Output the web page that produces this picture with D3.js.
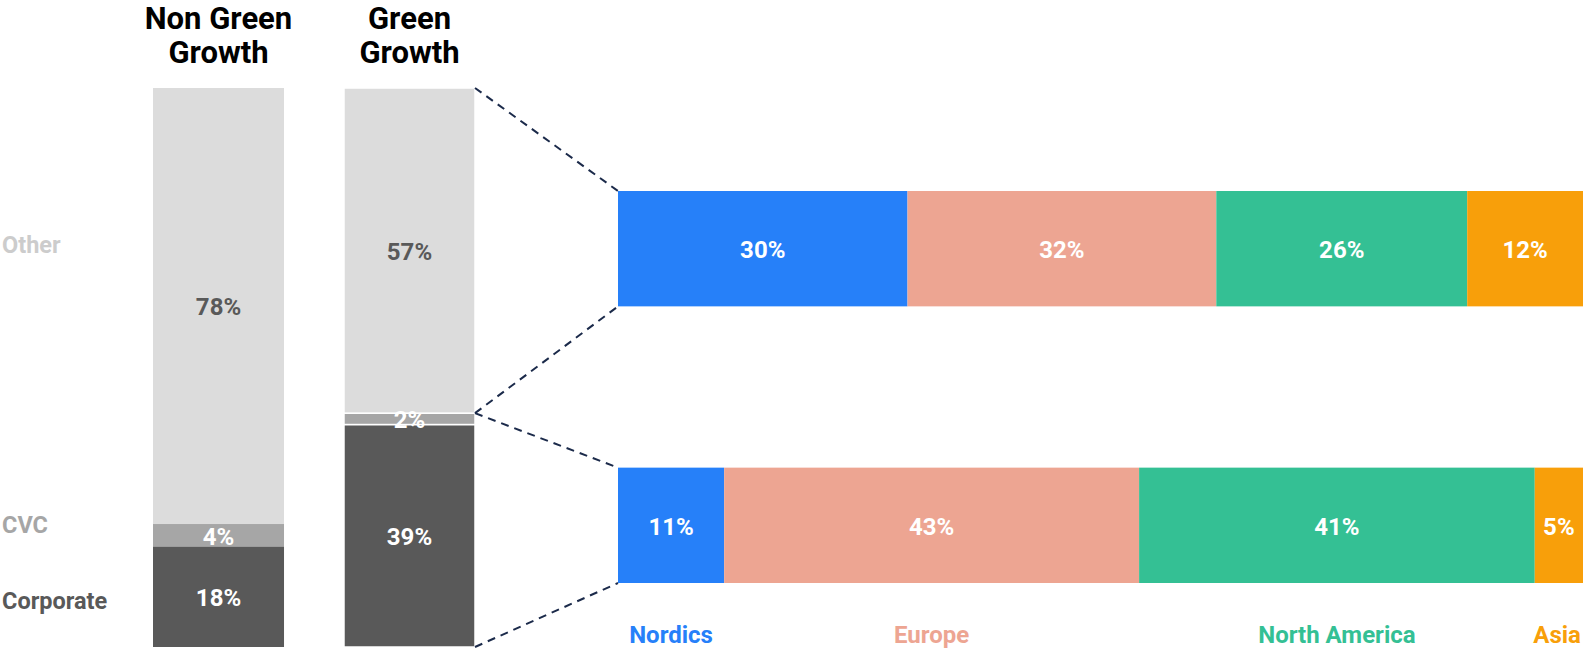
<!DOCTYPE html>
<meta charset="utf-8">
<style>
body { margin: 0; background: #fff; }
svg text { font-family: Roboto, "Noto Sans", sans-serif; font-weight: 700; }
</style>
<svg width="1583" height="649"></svg>
<script src="https://d3js.org/d3.v7.min.js"></script>
<script>

// ---- data ----
var groups = ["Non Green Growth", "Green Growth"];
var groupTitles = [["Non Green", "Growth"], ["Green", "Growth"]];
var investorTypes = ["Corporate", "CVC", "Other"];
var nonGreenValues = [18, 4, 78];
var greenValues = [39, 2, 57];

var regions = ["Nordics", "Europe", "North America", "Asia"];
var otherRegionValues = [30, 32, 26, 12];
var corporateRegionValues = [11, 43, 41, 5];

var greyColours = { "Corporate": "#595959", "CVC": "#a6a6a6", "Other": "#dcdcdc" };
var labelColours = { "Corporate": "#ffffff", "CVC": "#ffffff", "Other": "#595959" };
var sideLabelColours = { "Corporate": "#595959", "CVC": "#a6a6a6", "Other": "#cccccc" };
var sideLabelY = { "Corporate": 603, "CVC": 527, "Other": 247 };
var regionColours = ["#2680f9", "#eda592", "#34c094", "#f89f0a"];

var svg = d3.select("svg");

// ---- scales ----
var x = d3.scaleBand().domain(groups).range([153, 475]).paddingInner(0.314);
var y = d3.scaleLinear().domain([0, 1]).range([647, 88]);

var rx = d3.scaleLinear().domain([0, 1]).range([618, 1583]);
var ry = d3.scaleBand().domain(["Other", "Corporate"]).range([191, 583]).paddingInner(0.583);

function stackUp(values) {
  var total = d3.sum(values), acc = 0;
  return values.map(function(v, i) {
    var s = { key: investorTypes[i], value: v, y0: acc / total, y1: (acc + v) / total };
    acc += v;
    return s;
  });
}

var columns = [
  { name: groups[0], title: groupTitles[0], segs: stackUp(nonGreenValues), stroke: "none" },
  { name: groups[1], title: groupTitles[1], segs: stackUp(greenValues), stroke: "#fff" }
];

// titles
columns.forEach(function(c) {
  var t = svg.append("text")
    .attr("x", x(c.name) + x.bandwidth() / 2)
    .attr("text-anchor", "middle")
    .style("font-size", "31px")
    .attr("fill", "#000");
  c.title.forEach(function(line, i) {
    t.append("tspan")
      .attr("x", x(c.name) + x.bandwidth() / 2)
      .attr("y", 29 + i * 34)
      .text(line);
  });
});

// side labels
investorTypes.forEach(function(k) {
  svg.append("text")
    .attr("x", 2)
    .attr("y", sideLabelY[k])
    .attr("dominant-baseline", "middle")
    .style("font-size", "23.5px")
    .attr("fill", sideLabelColours[k])
    .text(k);
});

// stacked columns
columns.forEach(function(c) {
  var g = svg.append("g");
  g.selectAll("rect")
    .data(c.segs)
    .enter()
    .append("rect")
      .attr("x", x(c.name))
      .attr("width", x.bandwidth())
      .attr("y", function(d) { return y(d.y1); })
      .attr("height", function(d) { return y(d.y0) - y(d.y1); })
      .attr("fill", function(d) { return greyColours[d.key]; })
      .attr("stroke", c.stroke)
      .attr("stroke-width", 1.5);
  g.selectAll("text")
    .data(c.segs)
    .enter()
    .append("text")
      .attr("x", x(c.name) + x.bandwidth() / 2)
      .attr("y", function(d) { return (y(d.y0) + y(d.y1)) / 2 + 3; })
      .attr("text-anchor", "middle")
      .attr("dominant-baseline", "middle")
      .style("font-size", "24px")
      .attr("fill", function(d) { return labelColours[d.key]; })
      .text(function(d) { return d.value + "%"; });
});

// connector lines
var green = columns[1];
var bx = x(green.name) + x.bandwidth();
var otherSeg = green.segs[2], cvcSeg = green.segs[1];
var connectors = [
  [bx, y(otherSeg.y1), rx(0), ry("Other")],
  [bx, y(otherSeg.y0), rx(0), ry("Other") + ry.bandwidth()],
  [bx, y(cvcSeg.y1), rx(0), ry("Corporate")],
  [bx, y(0), rx(0), ry("Corporate") + ry.bandwidth()]
];
svg.append("g").selectAll("line")
  .data(connectors)
  .enter()
  .append("line")
    .attr("x1", function(d) { return d[0]; })
    .attr("y1", function(d) { return d[1]; })
    .attr("x2", function(d) { return d[2]; })
    .attr("y2", function(d) { return d[3]; })
    .style("stroke", "#1b2a4a")
    .style("stroke-width", "2")
    .style("stroke-dasharray", "8,6");

// region bars
function stackAcross(values) {
  var total = d3.sum(values), acc = 0;
  return values.map(function(v, i) {
    var s = { region: regions[i], value: v, x0: acc / total, x1: (acc + v) / total, colour: regionColours[i] };
    acc += v;
    return s;
  });
}

var regionRows = [
  { key: "Other", segs: stackAcross(otherRegionValues) },
  { key: "Corporate", segs: stackAcross(corporateRegionValues) }
];

regionRows.forEach(function(r) {
  var g = svg.append("g");
  g.selectAll("rect")
    .data(r.segs)
    .enter()
    .append("rect")
      .attr("x", function(d) { return rx(d.x0); })
      .attr("width", function(d) { return rx(d.x1) - rx(d.x0); })
      .attr("y", ry(r.key))
      .attr("height", ry.bandwidth())
      .attr("fill", function(d) { return d.colour; });
  g.selectAll("text")
    .data(r.segs)
    .enter()
    .append("text")
      .attr("x", function(d) { return (rx(d.x0) + rx(d.x1)) / 2; })
      .attr("y", ry(r.key) + ry.bandwidth() / 2 + 3)
      .attr("text-anchor", "middle")
      .attr("dominant-baseline", "middle")
      .style("font-size", "24px")
      .attr("fill", "#fff")
      .text(function(d) { return d.value + "%"; });
});

// legend under the lower bar
svg.append("g").selectAll("text")
  .data(regionRows[1].segs)
  .enter()
  .append("text")
    .attr("x", function(d) { return (rx(d.x0) + rx(d.x1)) / 2; })
    .attr("y", 643)
    .attr("text-anchor", "middle")
    .style("font-size", "24px")
    .attr("fill", function(d) { return d.colour; })
    .text(function(d) { return d.region; })
    .each(function() {
      var b = this.getBBox();
      if (b.x + b.width > 1581) d3.select(this).attr("x", 1581 - b.width / 2);
    });

</script>
